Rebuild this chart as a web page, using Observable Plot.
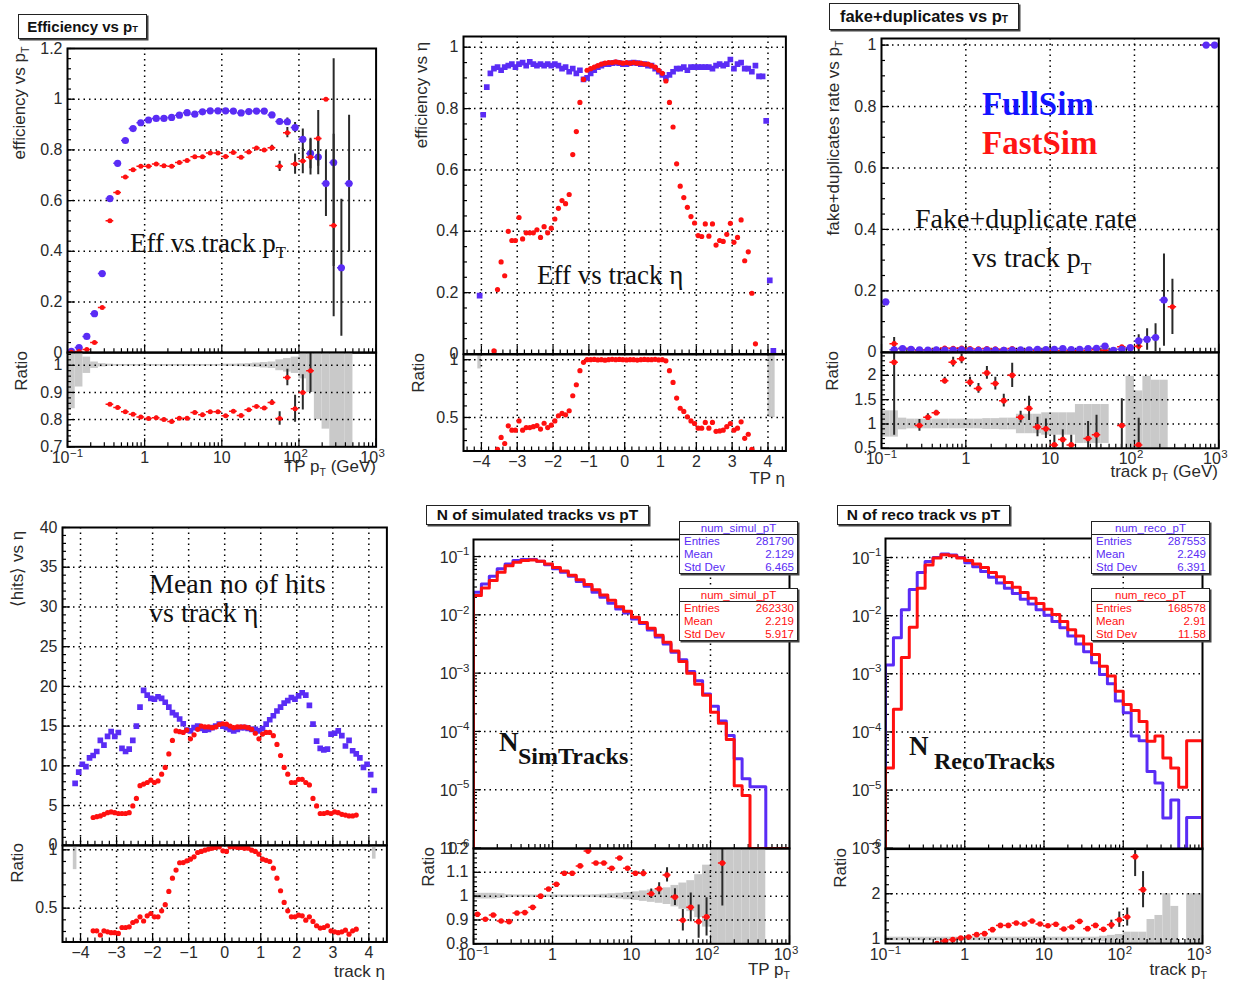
<!DOCTYPE html>
<html>
<head>
<meta charset="utf-8">
<script src="https://cdn.jsdelivr.net/npm/d3@7"></script>
<script src="https://cdn.jsdelivr.net/npm/@observablehq/plot@0.6"></script>
<style>
  body { margin: 0; background: #fff; }
  #page { position: relative; width: 1246px; height: 986px; overflow: hidden; background: #fff; }
</style>
</head>
<body>
<div id="page"></div>
<script>
// ---------- binning ----------
// transverse momentum: 10 log bins per decade from 0.1 to 1000 GeV
const ptEdges = d3.range(41).map(i => 10 ** (-1 + i / 10));
// pseudorapidity: 0.1 wide bins, centres -4.15 ... 4.15
const etaCentres = d3.range(84).map(i => Math.round((-4.15 + 0.1 * i) * 100) / 100);

// ---------- efficiency vs pT ----------
const effPtFull = [0.005, 0.02, 0.064, 0.154, 0.312, 0.608, 0.747, 0.837, 0.884, 0.907, 0.918, 0.924, 0.924, 0.928, 0.937, 0.947, 0.941, 0.95, 0.954, 0.954, 0.954, 0.953, 0.946, 0.951, 0.953, 0.953, 0.938, 0.912, 0.911, 0.888, 0.842, 0.786, 0.772, 0.667, 0.75, 0.335, 0.667, null, null, null];
const effPtFullErr = [0, 0, 0, 0, 0, 0, 0, 0, 0, 0, 0, 0, 0, 0, 0, 0, 0, 0, 0, 0, 0, 0, 0, 0, 0, 0, 0.006, 0.012, 0.015, 0.02, 0.04, 0.06, 0.07, 0.13, 0.41, 0.27, 0.27, 0, 0, 0];
const effPtFast = [0.002, 0.005, 0.013, 0.04, 0.178, 0.52, 0.632, 0.693, 0.722, 0.735, 0.735, 0.744, 0.737, 0.735, 0.75, 0.758, 0.773, 0.773, 0.788, 0.788, 0.774, 0.79, 0.771, 0.792, 0.807, 0.8, 0.808, 0.735, 0.868, 0.744, 0.756, 0.771, 0.845, 1.0, 0.502, null, null, null, null, null];
const effPtFastErr = [0, 0, 0, 0, 0, 0, 0, 0, 0, 0, 0, 0, 0, 0, 0, 0, 0, 0, 0, 0, 0, 0, 0, 0, 0, 0, 0.01, 0.02, 0.02, 0.04, 0.05, 0.07, 0.11, 0, 0.36, 0, 0, 0, 0, 0];
const effPtRatio = [null, null, null, null, null, 0.857, 0.845, 0.829, 0.82, 0.81, 0.804, 0.807, 0.8, 0.793, 0.805, 0.805, 0.826, 0.818, 0.829, 0.829, 0.814, 0.831, 0.815, 0.836, 0.848, 0.843, 0.863, 0.804, 0.955, 0.84, 0.9, 0.98, null, null, null, null, null, null, null, null];
const effPtRatioErr = [0, 0, 0, 0, 0, 0.005, 0.005, 0.005, 0.005, 0.005, 0.005, 0.005, 0.005, 0.005, 0.005, 0.005, 0.005, 0.005, 0.005, 0.005, 0.005, 0.005, 0.005, 0.005, 0.005, 0.005, 0.01, 0.025, 0.03, 0.05, 0.065, 0.08, 0, 0, 0, 0, 0, 0, 0, 0];
const effPtBand = [0.16, 0.08, 0.03, 0.012, 0.006, 0.004, 0.003, 0.003, 0.003, 0.003, 0.003, 0.003, 0.003, 0.003, 0.003, 0.003, 0.003, 0.003, 0.003, 0.003, 0.004, 0.004, 0.005, 0.006, 0.008, 0.01, 0.012, 0.02, 0.025, 0.03, 0.05, 0.1, 0.2, 0.235, 0.35, 0.35, 0.35, null, null, null];

// ---------- efficiency vs eta ----------
const effEtaFull = [null, 0.19, 0.78, 0.87, 0.915, 0.93, 0.935, 0.925, 0.935, 0.94, 0.945, 0.935, 0.945, 0.95, 0.94, 0.952, 0.945, 0.94, 0.945, 0.94, 0.945, 0.94, 0.945, 0.94, 0.93, 0.935, 0.92, 0.93, 0.915, 0.925, 0.895, 0.9, 0.915, 0.925, 0.935, 0.94, 0.945, 0.945, 0.948, 0.95, 0.948, 0.945, 0.945, 0.948, 0.95, 0.948, 0.945, 0.945, 0.94, 0.94, 0.93, 0.92, 0.91, 0.9, 0.91, 0.92, 0.93, 0.93, 0.935, 0.925, 0.935, 0.935, 0.935, 0.935, 0.935, 0.935, 0.93, 0.94, 0.945, 0.94, 0.945, 0.96, 0.93, 0.945, 0.95, 0.93, 0.93, 0.92, 0.94, 0.905, 0.905, 0.76, 0.24, 0.01];
const effEtaFast = [null, null, null, null, null, 0.01, 0.21, 0.30, 0.255, 0.40, 0.37, 0.37, 0.445, 0.375, 0.395, 0.395, 0.395, 0.405, 0.38, 0.415, 0.395, 0.41, 0.44, 0.475, 0.50, 0.49, 0.52, 0.65, 0.725, 0.82, 0.895, 0.925, 0.93, 0.935, 0.94, 0.945, 0.948, 0.95, 0.95, 0.952, 0.95, 0.948, 0.95, 0.948, 0.95, 0.948, 0.948, 0.945, 0.945, 0.94, 0.935, 0.925, 0.915, 0.89, 0.82, 0.74, 0.62, 0.547, 0.51, 0.478, 0.448, 0.427, 0.386, 0.383, 0.424, 0.384, 0.424, 0.355, 0.37, 0.367, 0.39, 0.426, 0.364, 0.38, 0.437, 0.304, 0.333, 0.198, 0.033, null, null, null, null, null];
const effEtaRatio = [null, null, null, null, null, null, 0.225, 0.327, 0.275, 0.428, 0.39, 0.39, 0.47, 0.39, 0.413, 0.413, 0.42, 0.43, 0.40, 0.45, 0.413, 0.433, 0.47, 0.515, 0.535, 0.523, 0.558, 0.688, 0.783, 0.905, 0.977, 1.0, 1.0, 1.002, 0.998, 1.0, 0.996, 1.0, 1.003, 1.0, 1.002, 1.0, 0.998, 1.0, 1.0, 0.997, 1.0, 1.002, 1.0, 1.0, 1.003, 0.998, 1.0, 0.99, 0.905, 0.803, 0.668, 0.58, 0.552, 0.506, 0.47, 0.448, 0.407, 0.407, 0.457, 0.407, 0.457, 0.38, 0.384, 0.39, 0.42, 0.448, 0.39, 0.407, 0.462, 0.32, 0.355, 0.225, null, null, null, null, null, null];
const effEtaBandEta = [-4.05, 4.05, 4.15];
const effEtaBandErr = [0.08, 0.5, 0.5];

// ---------- fake + duplicate rate vs pT ----------
const fakeFull = [0.164, 0.008, 0.012, 0.01, 0.008, 0.007, 0.008, 0.007, 0.007, 0.008, 0.006, 0.006, 0.007, 0.006, 0.006, 0.007, 0.008, 0.008, 0.01, 0.009, 0.01, 0.012, 0.009, 0.01, 0.012, 0.013, 0.02, 0.006, 0.01, 0.015, 0.037, 0.042, 0.048, 0.17, null, null, null, null, 1.0, 1.0];
const fakeFullErr = [0, 0, 0, 0, 0, 0, 0, 0, 0, 0, 0, 0, 0, 0, 0, 0, 0, 0, 0, 0, 0, 0, 0, 0, 0, 0, 0, 0, 0, 0, 0.02, 0.035, 0.045, 0.15, 0, 0, 0, 0, 0, 0];
const fakeFast = [null, 0.028, 0.012, 0.012, 0.006, 0.008, 0.01, 0.014, 0.013, 0.014, 0.012, 0.011, 0.012, 0.011, 0.01, 0.012, 0.008, 0.009, 0.007, 0.006, 0.006, 0.006, 0.005, 0.005, 0.007, 0.008, 0.007, null, 0.018, null, 0.02, null, null, null, 0.148, null, null, null, 1.0, 1.0];
const fakeFastErr = [0, 0.02, 0, 0, 0, 0, 0, 0, 0, 0, 0, 0, 0, 0, 0, 0, 0, 0, 0, 0, 0, 0, 0, 0, 0, 0, 0, 0, 0, 0, 0.02, 0, 0, 0, 0.09, 0, 0, 0, 0, 0];
const fakeRatio = [null, 2.27, null, null, 0.97, 1.14, 1.23, 1.89, 2.27, 2.34, 1.86, 1.73, 2.05, 1.83, 1.48, 2.0, 1.14, 1.32, 0.94, 0.9, 0.57, 0.68, 0.57, null, 0.7, 0.78, null, null, 0.97, null, 0.57, null, null, null, null, null, null, null, null, null];
const fakeRatioErr = [0, 1.5, 0, 0, 0.12, 0.07, 0.05, 0.07, 0.1, 0.1, 0.1, 0.1, 0.13, 0.13, 0.13, 0.25, 0.12, 0.25, 0.2, 0.2, 0.2, 0.2, 0.2, 0, 0.35, 0.4, 0, 0, 0.55, 0, 0.55, 0, 0, 0, 0, 0, 0, 0, 0, 0];
const fakeBand = [0.27, 0.27, 0.12, 0.1, 0.1, 0.1, 0.1, 0.1, 0.1, 0.1, 0.1, 0.1, 0.11, 0.11, 0.12, 0.12, 0.2, 0.2, 0.2, 0.23, 0.23, 0.23, 0.23, 0.4, 0.4, 0.4, 0.4, null, null, 0.98, 0.68, 0.98, 0.9, 0.9, null, null, null, null, null, null];

// ---------- mean number of hits vs eta ----------
const hitsFull = [7.8, 9.2, 10.2, 9.9, 11.0, 11.3, 11.8, 13.2, 12.6, 13.7, 14.3, 13.7, 14.2, 12.2, 11.8, 12.1, 13.2, 15.0, 17.4, 19.5, 18.9, 18.5, 18.4, 18.7, 18.5, 18.0, 17.4, 16.7, 16.4, 15.9, 15.3, 14.5, 14.4, 14.8, 15.0, 14.7, 14.5, 14.6, 14.8, 15.0, 15.25, 15.0, 14.8, 14.6, 14.4, 14.6, 14.8, 14.8, 14.7, 14.6, 14.6, 14.4, 14.7, 15.25, 15.8, 16.3, 16.9, 17.4, 17.9, 18.2, 18.6, 18.4, 18.8, 19.2, 18.9, 17.6, 15.25, 13.1, 12.2, 12.0, 12.1, 14.0, 14.1, 14.4, 13.8, 12.5, 13.2, 11.9, 11.5, 11.0, 9.8, 10.2, 8.9, 6.9];
const hitsFast = [null, null, null, null, null, 3.5, 3.6, 3.7, 3.9, 4.1, 4.2, 4.1, 4.0, 4.0, 4.0, 4.1, 4.95, 5.9, 7.5, 7.7, 7.9, 8.2, 7.9, 8.1, 8.95, 9.8, 11.5, 13.2, 14.4, 14.3, 14.2, 14.5, 13.4, 13.9, 14.6, 15.0, 14.9, 14.9, 14.8, 14.9, 15.2, 15.3, 15.25, 15.0, 14.8, 14.9, 14.9, 14.9, 14.8, 14.6, 14.1, 13.4, 14.0, 14.2, 14.2, 13.8, 12.7, 11.3, 9.8, 8.95, 7.9, 7.9, 8.3, 8.3, 7.9, 7.6, 5.9, 4.95, 4.0, 4.0, 4.1, 4.0, 4.2, 4.1, 3.9, 3.8, 3.7, 3.7, 3.8, null, null, null, null, null];
const hitsRatio = [null, null, null, null, null, 0.306, 0.306, 0.27, 0.306, 0.297, 0.29, 0.29, 0.283, 0.334, 0.334, 0.34, 0.377, 0.39, 0.426, 0.39, 0.434, 0.454, 0.426, 0.426, 0.477, 0.53, 0.643, 0.757, 0.826, 0.889, 0.891, 0.906, 0.92, 0.94, 0.977, 0.986, 0.997, 1.006, 1.014, 1.02, 1.026, 0.991, 0.986, 1.026, 1.026, 1.02, 1.02, 1.014, 1.014, 0.997, 0.986, 0.963, 0.92, 0.91, 0.9, 0.843, 0.757, 0.649, 0.549, 0.477, 0.426, 0.426, 0.44, 0.434, 0.397, 0.426, 0.386, 0.349, 0.329, 0.334, 0.349, 0.306, 0.297, 0.29, 0.297, 0.311, 0.277, 0.306, 0.32, null, null, null, null, null];
const hitsBandEta = [-4.15, 4.15];
const hitsBandErr = [0.17, 0.08];

// ---------- number of simulated tracks vs pT (normalised) ----------
const simFull = [2.45e-2, 3.39e-2, 4.57e-2, 6.17e-2, 7.41e-2, 8.51e-2, 8.91e-2, 8.91e-2, 8.32e-2, 7.24e-2, 6.17e-2, 5.37e-2, 4.57e-2, 3.72e-2, 3.09e-2, 2.45e-2, 2.0e-2, 1.58e-2, 1.26e-2, 1.07e-2, 8.51e-3, 7.08e-3, 5.5e-3, 4.17e-3, 3.16e-3, 2.29e-3, 1.7e-3, 1.07e-3, 7.41e-4, 4.37e-4, 2.69e-4, 1.51e-4, 8.51e-5, 3.39e-5, 1.55e-5, 1.12e-5, 1.12e-5, 0, 0, 0];
const simFast = [2.14e-2, 2.88e-2, 3.89e-2, 5.37e-2, 6.92e-2, 7.94e-2, 8.51e-2, 8.71e-2, 8.32e-2, 7.41e-2, 6.46e-2, 5.62e-2, 4.79e-2, 3.98e-2, 3.31e-2, 2.69e-2, 2.19e-2, 1.78e-2, 1.38e-2, 1.15e-2, 9.12e-3, 7.41e-3, 5.89e-3, 4.47e-3, 3.39e-3, 2.4e-3, 1.58e-3, 1.0e-3, 6.46e-4, 4.17e-4, 2.14e-4, 1.38e-4, 7.24e-5, 1.17e-5, 7.94e-6, 0, 0, 0, 0, 0];
const simRatio = [0.924, 0.903, 0.921, 0.896, 0.893, 0.929, 0.931, 0.953, 1.0, 1.03, 1.05, 1.096, 1.096, 1.127, 1.189, 1.139, 1.139, 1.117, 1.16, 1.117, 1.096, 1.096, 1.01, 1.031, 1.089, 0.996, 0.899, 0.953, 0.893, 0.913, null, 1.139, null, null, null, null, null, null, null, null];
const simRatioErr = [0.005, 0.005, 0.005, 0.005, 0.005, 0.005, 0.005, 0.005, 0.005, 0.005, 0.005, 0.005, 0.005, 0.005, 0.005, 0.005, 0.005, 0.005, 0.005, 0.005, 0.005, 0.015, 0.02, 0.025, 0.03, 0.035, 0.045, 0.06, 0.07, 0.08, 0, 0.18, 0, 0, 0, 0, 0, 0, 0, 0];
const simBand = [0.012, 0.012, 0.012, 0.01, 0.006, 0.005, 0.005, 0.005, 0.005, 0.005, 0.005, 0.005, 0.005, 0.005, 0.005, 0.006, 0.008, 0.01, 0.012, 0.015, 0.018, 0.022, 0.026, 0.03, 0.035, 0.045, 0.055, 0.065, 0.09, 0.13, 0.2, 0.5, 0.5, 0.5, 0.5, 0.5, 0.5, null, null, null];
const simStatsFull = [["Entries", "281790"], ["Mean", "2.129"], ["Std Dev", "6.465"]];
const simStatsFast = [["Entries", "262330"], ["Mean", "2.219"], ["Std Dev", "5.917"]];

// ---------- number of reconstructed tracks vs pT (normalised) ----------
const recoFull = [1.41e-3, 4.17e-3, 1.26e-2, 2.82e-2, 5.5e-2, 8.51e-2, 1.0e-1, 1.15e-1, 1.1e-1, 1.0e-1, 8.13e-2, 6.92e-2, 5.75e-2, 4.57e-2, 3.63e-2, 2.95e-2, 2.4e-2, 1.91e-2, 1.58e-2, 1.26e-2, 1.02e-2, 7.94e-3, 6.17e-3, 4.47e-3, 3.24e-3, 2.4e-3, 1.55e-3, 9.77e-4, 6.76e-4, 3.39e-4, 2.14e-4, 8.51e-5, 7.08e-5, 2.09e-5, 1.32e-5, 3.31e-6, 6.76e-6, 0, 3.39e-6, 3.39e-6];
const recoFast = [2.4e-5, 2.45e-4, 1.91e-3, 6.31e-3, 2.95e-2, 7.41e-2, 9.77e-2, 1.12e-1, 1.07e-1, 9.77e-2, 8.91e-2, 7.76e-2, 6.76e-2, 5.5e-2, 4.68e-2, 3.72e-2, 3.09e-2, 2.51e-2, 2.0e-2, 1.62e-2, 1.29e-2, 1.05e-2, 7.94e-3, 5.75e-3, 4.47e-3, 3.24e-3, 2.14e-3, 1.35e-3, 9.12e-4, 5.01e-4, 2.95e-4, 2.34e-4, 1.51e-4, 6.92e-5, 8.51e-5, 3.55e-5, 2.4e-5, 1.12e-5, 7.08e-5, 7.08e-5];
const recoRatio = [null, null, null, null, null, null, 0.9, 0.956, 0.985, 1.02, 1.044, 1.096, 1.118, 1.206, 1.3, 1.3, 1.353, 1.33, 1.397, 1.33, 1.294, 1.324, 1.22, 1.265, 1.39, 1.228, 1.3, 1.213, 1.316, 1.426, 1.485, 2.82, 2.09, null, null, null, null, null, null, null];
const recoRatioErr = [0, 0, 0, 0, 0, 0, 0.01, 0.01, 0.01, 0.01, 0.01, 0.01, 0.01, 0.01, 0.01, 0.01, 0.01, 0.01, 0.01, 0.01, 0.01, 0.01, 0.01, 0.01, 0.01, 0.01, 0.03, 0.03, 0.1, 0.17, 0.2, 0.44, 0.4, 0, 0, 0, 0, 0, 0, 0];
const recoBand = [0.04, 0.04, 0.04, 0.04, 0.04, 0.04, 0.04, 0.04, 0.04, 0.04, 0.04, 0.04, 0.04, 0.04, 0.04, 0.04, 0.04, 0.04, 0.04, 0.04, 0.04, 0.04, 0.04, 0.04, 0.04, 0.04, 0.04, 0.06, 0.08, 0.1, 0.15, 0.15, 0.15, 0.43, 0.52, 1.0, 0.72, null, 1.0, 1.0];
const recoStatsFull = [["Entries", "287553"], ["Mean", "2.249"], ["Std Dev", "6.391"]];
const recoStatsFast = [["Entries", "168578"], ["Mean", "2.91"], ["Std Dev", "11.58"]];

// ---------- styling ----------
const FULL = "#5a2cf5", FAST = "#ff1010", INK = "#2a2a2a", BAND = "#c9c9c9";
const SANS = '"Liberation Sans", Arial, Helvetica, sans-serif';
const SERIF = '"Liberation Serif", "Times New Roman", serif';
const page = document.getElementById("page");

// ---------- data records ----------
const ptBins = d3.range(40).map(i => ({lo: ptEdges[i], hi: ptEdges[i + 1], c: Math.sqrt(ptEdges[i] * ptEdges[i + 1])}));
const etaBins = etaCentres.map(c => ({lo: c - 0.05, hi: c + 0.05, c}));
const series = (bins, values, errors) =>
  bins.map((b, i) => ({...b, v: values[i], e: errors ? errors[i] || 0 : 0})).filter(d => d.v != null);
const bandOf = (bins, errors) => bins.map((b, i) => ({...b, e: errors[i]})).filter(d => d.e);
const bandAt = (centres, errors) => centres.map((c, i) => ({lo: c - 0.05, hi: c + 0.05, e: errors[i]}));
function stepPath(values, floor) {
  const pts = [{x: ptEdges[0], y: floor}];
  values.forEach((v, i) => {
    const y = v > 0 ? v : floor;
    pts.push({x: ptEdges[i], y}, {x: ptEdges[i + 1], y});
  });
  pts.push({x: ptEdges[40], y: floor});
  return pts;
}

// ---------- axis / mark helpers ----------
const between = (a, b, s) => d3.range(a, b + s / 2, s).map(v => +v.toFixed(4));
const logMajor = [0.1, 1, 10, 100, 1000];
const logMinor = [0.1, 1, 10, 100].flatMap(d => d3.range(2, 10).map(m => d * m));
const logYMajor = [1e-6, 1e-5, 1e-4, 1e-3, 1e-2, 1e-1];
const logYMinor = logYMajor.flatMap(d => d3.range(2, 10).map(m => d * m)).filter(v => v < 0.19);
const dotted = {stroke: "#000", strokeOpacity: 1, strokeWidth: 1.5, strokeDasharray: "1.5,4"};
const gridX = v => Plot.ruleX(v, {x: d => d, ...dotted});
const gridY = v => Plot.ruleY(v, {y: d => d, ...dotted});
const tickY = (v, len, fw) => Plot.tickY(v, {y: d => d, insetRight: fw - len, stroke: "#000", strokeWidth: 1.2});
const tickX = (v, len, fh) => Plot.tickX(v, {x: d => d, insetTop: fh - len, stroke: "#000", strokeWidth: 1.2});
const minus = d => `${d}`.replace("-", "\u2212");
const labY = (v, fmt = d => minus(d)) => Plot.text(v, {y: d => d, frameAnchor: "left", textAnchor: "end", dx: -5, text: fmt, fill: INK, fontSize: 16});
const labX = (v, fmt = d => minus(d)) => Plot.text(v, {x: d => d, frameAnchor: "bottom", dy: 16, text: fmt, fill: INK, fontSize: 16});
const expOf = d => Math.round(Math.log10(d));
const powLabX = v => [
  Plot.text(v.filter(d => d === 1 || d === 10), {x: d => d, frameAnchor: "bottom", dy: 16, text: d => `${d}`, fill: INK, fontSize: 16}),
  Plot.text(v.filter(d => d !== 1 && d !== 10), {x: d => d, frameAnchor: "bottom", dy: 16, dx: 2, textAnchor: "end", text: () => "10", fill: INK, fontSize: 16}),
  Plot.text(v.filter(d => d !== 1 && d !== 10), {x: d => d, frameAnchor: "bottom", dy: 10, dx: 2.5, textAnchor: "start", text: d => minus(expOf(d)), fill: INK, fontSize: 11.5})
];
const powLabY = v => [
  Plot.text(v, {y: d => d, frameAnchor: "left", dx: -16, dy: 1, textAnchor: "end", text: () => "10", fill: INK, fontSize: 16}),
  Plot.text(v, {y: d => d, frameAnchor: "left", dx: -4, dy: -5, textAnchor: "end", text: d => minus(expOf(d)), fill: INK, fontSize: 11.5})
];
const errBars = data => Plot.ruleX(data.filter(d => d.e > 0), {x: "c", y1: d => d.v - d.e, y2: d => d.v + d.e, stroke: INK, strokeWidth: 2, clip: true});
const binBars = (data, color) => Plot.ruleY(data, {y: "v", x1: "lo", x2: "hi", stroke: color, strokeWidth: 1.5, clip: true});
const dots = (data, color, r, symbol = "circle") => Plot.dot(data, {x: "c", y: "v", r, fill: color, symbol, clip: true});
const bandRects = data => Plot.rect(data, {x1: "lo", x2: "hi", y1: d => 1 - d.e, y2: d => 1 + d.e, fill: BAND, clip: true});
const frame = () => Plot.frame({stroke: "#000", strokeWidth: 2});

// one Plot per pad; the pad frame is placed at page coordinates box = [left, top, right, bottom]
function pad({box, x, y, marks}) {
  const [x0, y0, x1, y1] = box;
  const fw = x1 - x0, fh = y1 - y0, m = 40;
  const svg = Plot.plot({
    width: fw + 2 * m, height: fh + 2 * m,
    marginLeft: m, marginRight: m, marginTop: m, marginBottom: m,
    x: {...x, axis: null}, y: {...y, axis: null},
    style: {fontFamily: SANS, fontSize: "16px", color: INK, background: "transparent", overflow: "visible"},
    marks: marks(fw, fh)
  });
  Object.assign(svg.style, {position: "absolute", left: `${x0 - m}px`, top: `${y0 - m}px`, maxWidth: "none"});
  page.appendChild(svg);
}
const ptX = {type: "log", domain: [0.1, 1000]};
const etaX = {domain: [-4.5, 4.5]};
const ptTicks = (fh) => [tickX(logMinor, 4, fh), tickX(logMajor, 8, fh)];
const etaTicks = (fh) => [tickX(between(-4.4, 4.4, 0.2), 4, fh), tickX(between(-4, 4, 1), 8, fh)];

// ===== pad 1: efficiency vs pT =====
const e1Full = series(ptBins, effPtFull, effPtFullErr);
const e1Fast = series(ptBins, effPtFast, effPtFastErr);
const e1Ratio = series(ptBins, effPtRatio, effPtRatioErr);
pad({
  box: [66.7, 47.5, 375.3, 351.7], x: ptX, y: {domain: [0, 1.2]},
  marks: (fw, fh) => [
    gridX([1, 10, 100]), gridY(between(0.2, 1, 0.2)),
    tickY(between(0, 1.2, 0.04), 4, fw), tickY(between(0, 1.2, 0.2), 8, fw), ...ptTicks(fh),
    labY(between(0, 1.2, 0.2)),
    errBars(e1Full), binBars(e1Full, FULL), dots(e1Full, FULL, 3.6),
    errBars(e1Fast), binBars(e1Fast, FAST), dots(e1Fast, FAST, 2.5),
    frame()
  ]
});
pad({
  box: [66.7, 351.7, 375.3, 446], x: ptX, y: {domain: [0.7, 1.047]},
  marks: (fw, fh) => [
    bandRects(bandOf(ptBins, effPtBand)),
    gridX([1, 10, 100]), gridY([0.8, 0.9, 1]),
    tickY(between(0.7, 1.04, 0.02), 4, fw), tickY(between(0.7, 1, 0.1), 8, fw), ...ptTicks(fh),
    labY(between(0.7, 1, 0.1)), ...powLabX(logMajor),
    errBars(e1Ratio), binBars(e1Ratio, FAST), dots(e1Ratio, FAST, 2.5),
    frame()
  ]
});

// ===== pad 2: efficiency vs eta =====
const e2Full = series(etaBins, effEtaFull);
const e2Fast = series(etaBins, effEtaFast);
const e2Ratio = series(etaBins, effEtaRatio);
pad({
  box: [463.3, 36, 785.7, 353.5], x: etaX, y: {domain: [0, 1.035]},
  marks: (fw, fh) => [
    gridX(between(-4, 4, 1)), gridY(between(0.2, 1, 0.2)),
    tickY(between(0, 1, 0.05), 4, fw), tickY(between(0, 1, 0.2), 8, fw), ...etaTicks(fh),
    labY(between(0, 1, 0.2)),
    dots(e2Full, FULL, 3.2, "square"), dots(e2Fast, FAST, 2.6),
    frame()
  ]
});
pad({
  box: [463.3, 353.5, 785.7, 450], x: etaX, y: {domain: [0.21, 1.045]},
  marks: (fw, fh) => [
    bandRects(bandAt(effEtaBandEta, effEtaBandErr)),
    gridX(between(-4, 4, 1)), gridY([0.5, 1]),
    tickY(between(0.3, 1, 0.1), 4, fw), tickY([0.5, 1], 8, fw), ...etaTicks(fh),
    labY([0.5, 1]), labX(between(-4, 4, 1)),
    dots(e2Ratio, FAST, 2.6),
    frame()
  ]
});

// ===== pad 3: fake + duplicate rate vs pT (FullSim markers drawn on top) =====
const f3Full = series(ptBins, fakeFull, fakeFullErr);
const f3Fast = series(ptBins, fakeFast, fakeFastErr);
const f3Ratio = series(ptBins, fakeRatio, fakeRatioErr);
pad({
  box: [881, 37.7, 1218.3, 351.5], x: ptX, y: {domain: [0, 1.0215]},
  marks: (fw, fh) => [
    gridX([1, 10, 100]), gridY(between(0.2, 1, 0.2)),
    tickY(between(0, 1, 0.05), 4, fw), tickY(between(0, 1, 0.2), 8, fw), ...ptTicks(fh),
    labY(between(0, 1, 0.2)),
    errBars(f3Fast), binBars(f3Fast, FAST), dots(f3Fast, FAST, 2.6),
    errBars(f3Full), binBars(f3Full, FULL), dots(f3Full, FULL, 3.6),
    frame()
  ]
});
pad({
  box: [881, 351.5, 1218.3, 447.3], x: ptX, y: {domain: [0.5, 2.47]},
  marks: (fw, fh) => [
    bandRects(bandOf(ptBins, fakeBand)),
    gridX([1, 10, 100]), gridY([1, 1.5, 2]),
    tickY(between(0.5, 2.4, 0.1), 4, fw), tickY(between(0.5, 2, 0.5), 8, fw), ...ptTicks(fh),
    labY(between(0.5, 2, 0.5)), ...powLabX(logMajor),
    errBars(f3Ratio), binBars(f3Ratio, FAST), dots(f3Ratio, FAST, 2.8),
    frame()
  ]
});

// ===== pad 4: mean number of hits vs eta =====
const h4Full = series(etaBins, hitsFull);
const h4Fast = series(etaBins, hitsFast);
const h4Ratio = series(etaBins, hitsRatio);
pad({
  box: [62.3, 526.7, 386.7, 844.5], x: etaX, y: {domain: [0, 40]},
  marks: (fw, fh) => [
    gridX(between(-4, 4, 1)), gridY(between(5, 35, 5)),
    tickY(between(0, 40, 1), 4, fw), tickY(between(0, 40, 5), 8, fw), ...etaTicks(fh),
    labY(between(0, 40, 5)),
    dots(h4Full, FULL, 3.2, "square"), dots(h4Fast, FAST, 2.6),
    frame()
  ]
});
pad({
  box: [62.3, 844.5, 386.7, 941], x: etaX, y: {domain: [0.21, 1.037]},
  marks: (fw, fh) => [
    bandRects(bandAt(hitsBandEta, hitsBandErr)),
    gridX(between(-4, 4, 1)), gridY([0.5, 1]),
    tickY(between(0.3, 1, 0.1), 4, fw), tickY([0.5, 1], 8, fw), ...etaTicks(fh),
    labY([0.5, 1]), labX(between(-4, 4, 1)),
    dots(h4Ratio, FAST, 2.6),
    frame()
  ]
});

// ===== pads 5 and 6: track-count histograms vs pT =====
function histPads({mainBox, ratioBox, yDomain, full, fast, ratio, ratioErr, band, ratioDomain, ratioGrid, ratioMinor, ratioMajor}) {
  const floor = yDomain[0];
  const r = series(ptBins, ratio, ratioErr);
  pad({
    box: mainBox, x: ptX, y: {type: "log", domain: yDomain},
    marks: (fw, fh) => [
      gridX([1, 10, 100]), gridY(logYMajor.slice(1)),
      tickY(logYMinor, 4, fw), tickY(logYMajor, 8, fw), ...ptTicks(fh),
      ...powLabY(logYMajor),
      Plot.line(stepPath(full, floor), {x: "x", y: "y", stroke: FULL, strokeWidth: 3, clip: true}),
      Plot.line(stepPath(fast, floor), {x: "x", y: "y", stroke: FAST, strokeWidth: 3, clip: true}),
      frame()
    ]
  });
  pad({
    box: ratioBox, x: ptX, y: {domain: ratioDomain},
    marks: (fw, fh) => [
      bandRects(bandOf(ptBins, band)),
      gridX([1, 10, 100]), gridY(ratioGrid),
      tickY(ratioMinor, 4, fw), tickY(ratioMajor, 8, fw), ...ptTicks(fh),
      labY(ratioMajor), ...powLabX(logMajor),
      errBars(r), binBars(r, FAST), dots(r, FAST, 2.8),
      frame()
    ]
  });
}
histPads({
  mainBox: [473.3, 539, 789.3, 848], ratioBox: [473.3, 848, 789.3, 943.3],
  yDomain: [10 ** -6.008, 10 ** -0.708], full: simFull, fast: simFast,
  ratio: simRatio, ratioErr: simRatioErr, band: simBand, ratioDomain: [0.8, 1.2],
  ratioGrid: [0.9, 1, 1.1], ratioMinor: between(0.8, 1.2, 0.02), ratioMajor: between(0.8, 1.2, 0.1)
});
histPads({
  mainBox: [885, 537.7, 1202, 848.3], ratioBox: [885, 848.3, 1202, 943.3],
  yDomain: [10 ** -6.015, 10 ** -0.673], full: recoFull, fast: recoFast,
  ratio: recoRatio, ratioErr: recoRatioErr, band: recoBand, ratioDomain: [0.9, 3.0],
  ratioGrid: [1, 2], ratioMinor: between(1, 3, 0.2), ratioMajor: [1, 2, 3]
});

// ---------- text overlays ----------
const sub = s => `<span style="font-size:.62em;position:relative;top:.38em">${s}</span>`;
function txt(html, x, y, {size = 17, anchor = "start", rotate = false, color = INK, font = SANS, weight = 400} = {}) {
  const el = document.createElement("div");
  el.innerHTML = html;
  Object.assign(el.style, {position: "absolute", left: `${x}px`, top: `${y}px`, fontSize: `${size}px`, fontFamily: font,
    fontWeight: weight, color, lineHeight: "1", whiteSpace: "nowrap"});
  const tx = anchor === "start" ? "0" : anchor === "middle" ? "-50%" : "-100%";
  el.style.transform = rotate ? "translate(-50%, -50%) rotate(-90deg)" : `translate(${tx}, -50%)`;
  page.appendChild(el);
}
function titleBox(html, x, y, w, h, size = 15.5) {
  const el = document.createElement("div");
  el.innerHTML = html;
  Object.assign(el.style, {position: "absolute", left: `${x}px`, top: `${y}px`, width: `${w}px`, height: `${h}px`,
    boxSizing: "border-box", border: "1.3px solid #222", boxShadow: "1.5px 1.5px 0 #444", background: "#fff",
    font: `bold ${size}px ${SANS}`, color: "#111", display: "flex", alignItems: "center", justifyContent: "center", lineHeight: "1"});
  page.appendChild(el);
}
function statBox(name, rows, x, y, color) {
  const el = document.createElement("div");
  Object.assign(el.style, {position: "absolute", left: `${x}px`, top: `${y}px`, width: "119px", height: "53px",
    boxSizing: "border-box", border: "1.2px solid #222", boxShadow: "1.5px 1.5px 0 #444", background: "#fff",
    font: `11.5px ${SANS}`, color, lineHeight: "13px"});
  el.innerHTML = `<div style="text-align:center;border-bottom:1.2px solid #222;height:12px;line-height:12px">${name}</div>` +
    rows.map(([k, v]) => `<div style="display:flex;justify-content:space-between;padding:0 3px 0 4px;height:13px"><span>${k}</span><span>${v}</span></div>`).join("");
  page.appendChild(el);
}

titleBox(`Efficiency vs p${sub("T")}`, 18, 14, 129, 25, 15);
titleBox(`fake+duplicates vs p${sub("T")}`, 829, 3, 190, 27, 16.5);
titleBox("N of simulated tracks vs pT", 426, 505, 223, 20, 15.5);
titleBox("N of reco track vs pT", 837, 505, 173, 20, 15.5);

txt(`efficiency vs p${sub("T")}`, 19, 103, {rotate: true});
txt("efficiency vs η", 421, 95, {rotate: true});
txt(`fake+duplicates rate vs p${sub("T")}`, 833, 138, {rotate: true});
txt("⟨hits⟩ vs η", 17, 569, {rotate: true});
txt("Ratio", 21, 371, {rotate: true});
txt("Ratio", 418, 373, {rotate: true});
txt("Ratio", 832, 371, {rotate: true});
txt("Ratio", 17, 863, {rotate: true});
txt("Ratio", 428, 867, {rotate: true});
txt("Ratio", 840, 868, {rotate: true});

txt(`TP p${sub("T")} (GeV)`, 376, 466, {anchor: "end"});
txt("TP η", 785, 478, {anchor: "end"});
txt(`track p${sub("T")} (GeV)`, 1218, 471, {anchor: "end"});
txt("track η", 385, 971, {anchor: "end"});
txt(`TP p${sub("T")}`, 790, 969, {anchor: "end"});
txt(`track p${sub("T")}`, 1207, 969, {anchor: "end"});

const NOTE = {font: SERIF, color: "#111"};
txt(`Eff vs track p${sub("T")}`, 130, 243, {...NOTE, size: 27});
txt("Eff vs track η", 537, 275, {...NOTE, size: 27});
txt("FullSim", 982, 104, {...NOTE, size: 33, weight: 700, color: "#1414ff"});
txt("FastSim", 982, 143, {...NOTE, size: 33, weight: 700, color: "#ff1414"});
txt("Fake+duplicate rate", 915, 219, {...NOTE, size: 28});
txt(`vs track p${sub("T")}`, 972, 258, {...NOTE, size: 28});
txt("Mean no of hits", 149, 584, {...NOTE, size: 28});
txt("vs track η", 149, 613, {...NOTE, size: 28});
txt("N", 499, 742, {...NOTE, size: 27, weight: 700});
txt("SimTracks", 518, 756, {...NOTE, size: 24, weight: 700});
txt("N", 909, 746, {...NOTE, size: 27, weight: 700});
txt("RecoTracks", 934, 761, {...NOTE, size: 24, weight: 700});

statBox("num_simul_pT", simStatsFull, 679, 521, FULL);
statBox("num_simul_pT", simStatsFast, 679, 588, FAST);
statBox("num_reco_pT", recoStatsFull, 1091, 521, FULL);
statBox("num_reco_pT", recoStatsFast, 1091, 588, FAST);
</script>
</body>
</html>
